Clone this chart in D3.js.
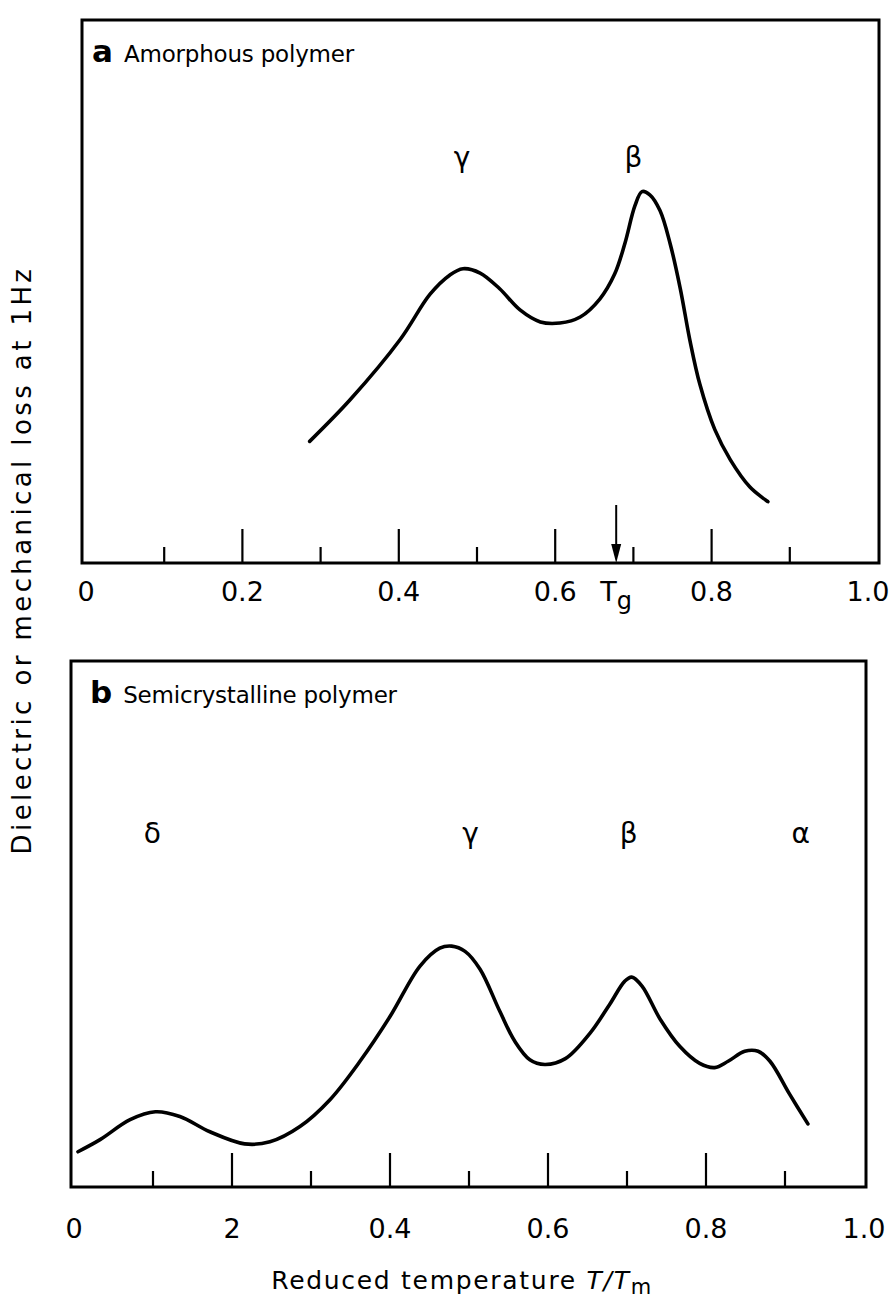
<!DOCTYPE html>
<html>
<head>
<meta charset="utf-8">
<script src="https://cdn.jsdelivr.net/npm/d3@7"></script>
<style>
  html, body { margin: 0; padding: 0; background: #fff; }
  svg { display: block; }
  text { font-family: "DejaVu Sans", "Liberation Sans", sans-serif; fill: #000; }
</style>
</head>
<body>
<script>
// Reduced temperature T/Tm tick positions and their printed labels
const tickValues = [0, 0.2, 0.4, 0.6, 0.8, 1.0];
const tickLabelsA = ["0", "0.2", "0.4", "0.6", "0.8", "1.0"];
const tickLabelsB = ["0", "2", "0.4", "0.6", "0.8", "1.0"];
const minorTicks = [0.1, 0.3, 0.5, 0.7, 0.9];

// Glass transition marker (panel a)
const tgValue = 0.678;

// Panel a: amorphous polymer loss curve (arbitrary units, 0–10)
const amorphousT = [0.286, 0.338, 0.402, 0.440, 0.465, 0.482, 0.504, 0.529, 0.555, 0.581, 0.606, 0.632, 0.657, 0.676, 0.689, 0.702, 0.711, 0.721, 0.734, 0.747, 0.760, 0.772, 0.785, 0.804, 0.824, 0.849, 0.872];
const amorphousLoss = [2.24, 3.01, 4.12, 4.95, 5.30, 5.42, 5.34, 5.05, 4.66, 4.44, 4.42, 4.53, 4.86, 5.32, 5.88, 6.58, 6.84, 6.78, 6.49, 5.88, 5.05, 4.12, 3.29, 2.46, 1.90, 1.40, 1.13];
const amorphousPeaks = ["γ", "β"];
const amorphousPeakT = [0.481, 0.700];

// Panel b: semicrystalline polymer loss curve (arbitrary units, 0–10)
const semiT = [0.005, 0.033, 0.071, 0.103, 0.134, 0.172, 0.216, 0.248, 0.286, 0.324, 0.362, 0.400, 0.438, 0.463, 0.478, 0.495, 0.514, 0.539, 0.558, 0.577, 0.596, 0.622, 0.653, 0.678, 0.697, 0.706, 0.719, 0.742, 0.767, 0.792, 0.811, 0.828, 0.849, 0.866, 0.881, 0.906, 0.929];
const semiLoss = [0.67, 0.90, 1.28, 1.43, 1.34, 1.05, 0.82, 0.86, 1.15, 1.66, 2.39, 3.24, 4.20, 4.54, 4.58, 4.48, 4.14, 3.34, 2.77, 2.42, 2.33, 2.44, 2.92, 3.47, 3.91, 3.99, 3.82, 3.19, 2.67, 2.35, 2.27, 2.39, 2.58, 2.58, 2.39, 1.76, 1.20];
const semiPeaks = ["δ", "γ", "β", "α"];
const semiPeakT = [0.099, 0.502, 0.702, 0.920];

const W = 891, H = 1306;
const svg = d3.select("body").append("svg").attr("width", W).attr("height", H);

const panels = [
  {
    letter: "a", title: "Amorphous polymer",
    frame: { left: 82, right: 879, top: 20, bottom: 563 },
    range: [86, 868], headX: 92,
    t: amorphousT, loss: amorphousLoss,
    peaks: amorphousPeaks, peakT: amorphousPeakT, peakY: 157,
    labels: tickLabelsA, labelY: 591, tg: true
  },
  {
    letter: "b", title: "Semicrystalline polymer",
    frame: { left: 71, right: 866, top: 661, bottom: 1187 },
    range: [74, 864], headX: 90,
    t: semiT, loss: semiLoss,
    peaks: semiPeaks, peakT: semiPeakT, peakY: 833,
    labels: tickLabelsB, labelY: 1228, tg: false
  }
];

panels.forEach(p => {
  const f = p.frame;
  const x = d3.scaleLinear().domain([0, 1]).range(p.range);
  const y = d3.scaleLinear().domain([0, 10]).range([f.bottom, f.top]);
  const g = svg.append("g");

  // frame
  g.append("rect")
    .attr("x", f.left).attr("y", f.top)
    .attr("width", f.right - f.left).attr("height", f.bottom - f.top)
    .attr("fill", "none").attr("stroke", "#000").attr("stroke-width", 3);

  // inward ticks standing on the baseline
  const major = tickValues.filter(v => v > 0 && v < 1);
  g.selectAll(".major").data(major).join("line")
    .attr("x1", d => x(d)).attr("x2", d => x(d))
    .attr("y1", f.bottom).attr("y2", f.bottom - 34)
    .attr("stroke", "#000").attr("stroke-width", 2.2);
  g.selectAll(".minor").data(minorTicks).join("line")
    .attr("x1", d => x(d)).attr("x2", d => x(d))
    .attr("y1", f.bottom).attr("y2", f.bottom - 16)
    .attr("stroke", "#000").attr("stroke-width", 2.2);

  // tick labels
  g.selectAll(".tl").data(tickValues).join("text")
    .attr("x", d => x(d)).attr("y", p.labelY)
    .attr("text-anchor", "middle").attr("dominant-baseline", "central")
    .attr("font-size", 27)
    .text((d, i) => p.labels[i]);

  // loss curve
  const line = d3.line()
    .x((d, i) => x(p.t[i]))
    .y(d => y(d))
    .curve(d3.curveCatmullRom.alpha(0.5));
  g.append("path").datum(p.loss)
    .attr("d", line)
    .attr("fill", "none").attr("stroke", "#000")
    .attr("stroke-width", 3.6).attr("stroke-linejoin", "round").attr("stroke-linecap", "round");

  // relaxation labels
  g.selectAll(".pk").data(p.peaks).join("text")
    .attr("x", (d, i) => x(p.peakT[i])).attr("y", p.peakY)
    .attr("text-anchor", "middle").attr("dominant-baseline", "central")
    .attr("font-size", 28)
    .text(d => d);

  // panel heading
  const head = g.append("text").attr("x", p.headX).attr("y", f.top + 42).attr("font-size", 23);
  head.append("tspan").attr("font-weight", "bold").attr("font-size", 31).text(p.letter);
  head.append("tspan").attr("dx", 11).attr("letter-spacing", -0.2).text(p.title);

  // glass transition arrow
  if (p.tg) {
    const tx = x(tgValue);
    g.append("line")
      .attr("x1", tx).attr("x2", tx)
      .attr("y1", f.bottom - 58).attr("y2", f.bottom - 14)
      .attr("stroke", "#000").attr("stroke-width", 2);
    g.append("path")
      .attr("d", `M${tx - 5},${f.bottom - 19} L${tx + 5},${f.bottom - 19} L${tx},${f.bottom} Z`)
      .attr("fill", "#000");
    const tl = g.append("text").attr("x", tx).attr("y", p.labelY)
      .attr("text-anchor", "middle").attr("dominant-baseline", "central").attr("font-size", 27);
    tl.append("tspan").text("T");
    tl.append("tspan").attr("font-size", 24).attr("dy", 10).text("g");
  }
});

// shared axis titles
svg.append("text")
  .attr("transform", "translate(22,560) rotate(-90)")
  .attr("text-anchor", "middle").attr("dominant-baseline", "central")
  .attr("font-size", 26).attr("letter-spacing", 3.4)
  .text("Dielectric or mechanical loss at 1Hz");

const xt = svg.append("text")
  .attr("x", 462).attr("y", 1280)
  .attr("text-anchor", "middle").attr("dominant-baseline", "central")
  .attr("font-size", 25).attr("letter-spacing", 1.7);
xt.append("tspan").text("Reduced temperature ");
xt.append("tspan").attr("font-style", "italic").text("T/T");
xt.append("tspan").attr("font-size", 21).attr("dy", 7).text("m");
</script>
</body>
</html>
